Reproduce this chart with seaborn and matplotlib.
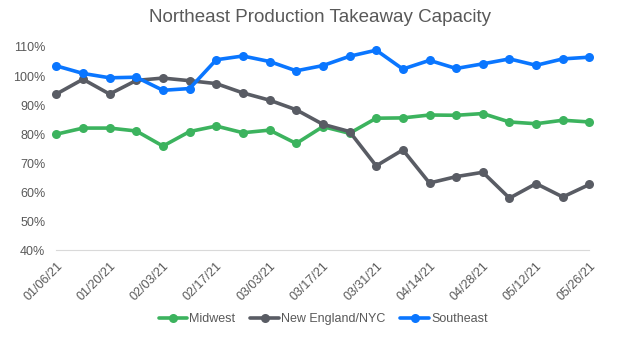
import matplotlib
matplotlib.use("Agg")
import matplotlib.pyplot as plt
import seaborn as sns
import pandas as pd

dates = ["01/06/21", "01/13/21", "01/20/21", "01/27/21", "02/03/21", "02/10/21",
         "02/17/21", "02/24/21", "03/03/21", "03/10/21", "03/17/21", "03/24/21",
         "03/31/21", "04/07/21", "04/14/21", "04/21/21", "04/28/21", "05/05/21",
         "05/12/21", "05/19/21", "05/26/21"]

midwest = [80.0, 82.1, 82.1, 81.1, 75.9, 80.9, 82.8, 80.5, 81.4, 76.8, 82.6,
           80.3, 85.5, 85.6, 86.6, 86.5, 87.1, 84.2, 83.6, 84.8, 84.2]
new_england = [93.8, 98.9, 93.8, 98.5, 99.3, 98.4, 97.4, 94.2, 91.7, 88.4, 83.4,
               80.9, 69.1, 74.6, 63.2, 65.4, 66.9, 58.0, 63.0, 58.4, 62.7]
southeast = [103.5, 100.9, 99.4, 99.6, 95.1, 95.7, 105.6, 106.9, 105.0, 101.8, 103.6,
             106.8, 108.9, 102.4, 105.4, 102.6, 104.2, 105.9, 103.7, 105.9, 106.5]

series_names = ["Midwest", "New England/NYC", "Southeast"]
colors = ["#3CB35E", "#595C64", "#0A76FF"]

df = pd.DataFrame({
    "week": list(range(len(dates))) * 3,
    "capacity": midwest + new_england + southeast,
    "region": [n for n in series_names for _ in dates],
})

sns.set_style("white")
plt.rcParams["font.family"] = ["Liberation Sans", "DejaVu Sans"]
text_gray = "#595959"

fig, ax = plt.subplots(figsize=(6.4, 3.38), dpi=100)
fig.subplots_adjust(left=0.088, right=0.921, top=0.861, bottom=0.259)

sns.lineplot(data=df, x="week", y="capacity", hue="region", hue_order=series_names,
             palette=colors, marker="o", markersize=6.5, markeredgewidth=0,
             linewidth=2.6, ax=ax, clip_on=False)

ax.set_ylim(40, 110)
ax.set_xlim(0, len(dates) - 1)
ax.set_yticks(range(40, 111, 10))
ax.set_yticklabels([f"{v}%" for v in range(40, 111, 10)], color=text_gray, fontsize=9)
tick_pos = list(range(0, len(dates), 2))
ax.set_xticks(tick_pos)
ax.set_xticklabels([dates[i] for i in tick_pos], rotation=45, ha="right",
                   rotation_mode="anchor", color=text_gray, fontsize=9)
ax.set_xlabel("")
ax.set_ylabel("")

for side in ["top", "right", "left"]:
    ax.spines[side].set_visible(False)
ax.spines["bottom"].set_color("#D9D9D9")
ax.tick_params(axis="x", length=4, color="#D9D9D9", pad=3)
ax.tick_params(axis="y", length=0, pad=8)

fig.text(0.5, 1 - 18 / 338, "Northeast Production Takeaway Capacity",
         color=text_gray, fontsize=13.5, ha="center", va="center")

handles, labels = ax.get_legend_handles_labels()
ax.get_legend().remove()
leg = fig.legend(handles, labels, loc="center", bbox_to_anchor=(0.505, 1 - 319 / 338),
                 ncol=3, frameon=False, fontsize=9, handlelength=2.3,
                 handletextpad=0.15, columnspacing=1.2)
for t in leg.get_texts():
    t.set_color(text_gray)

fig.savefig("out.png", dpi=100)
